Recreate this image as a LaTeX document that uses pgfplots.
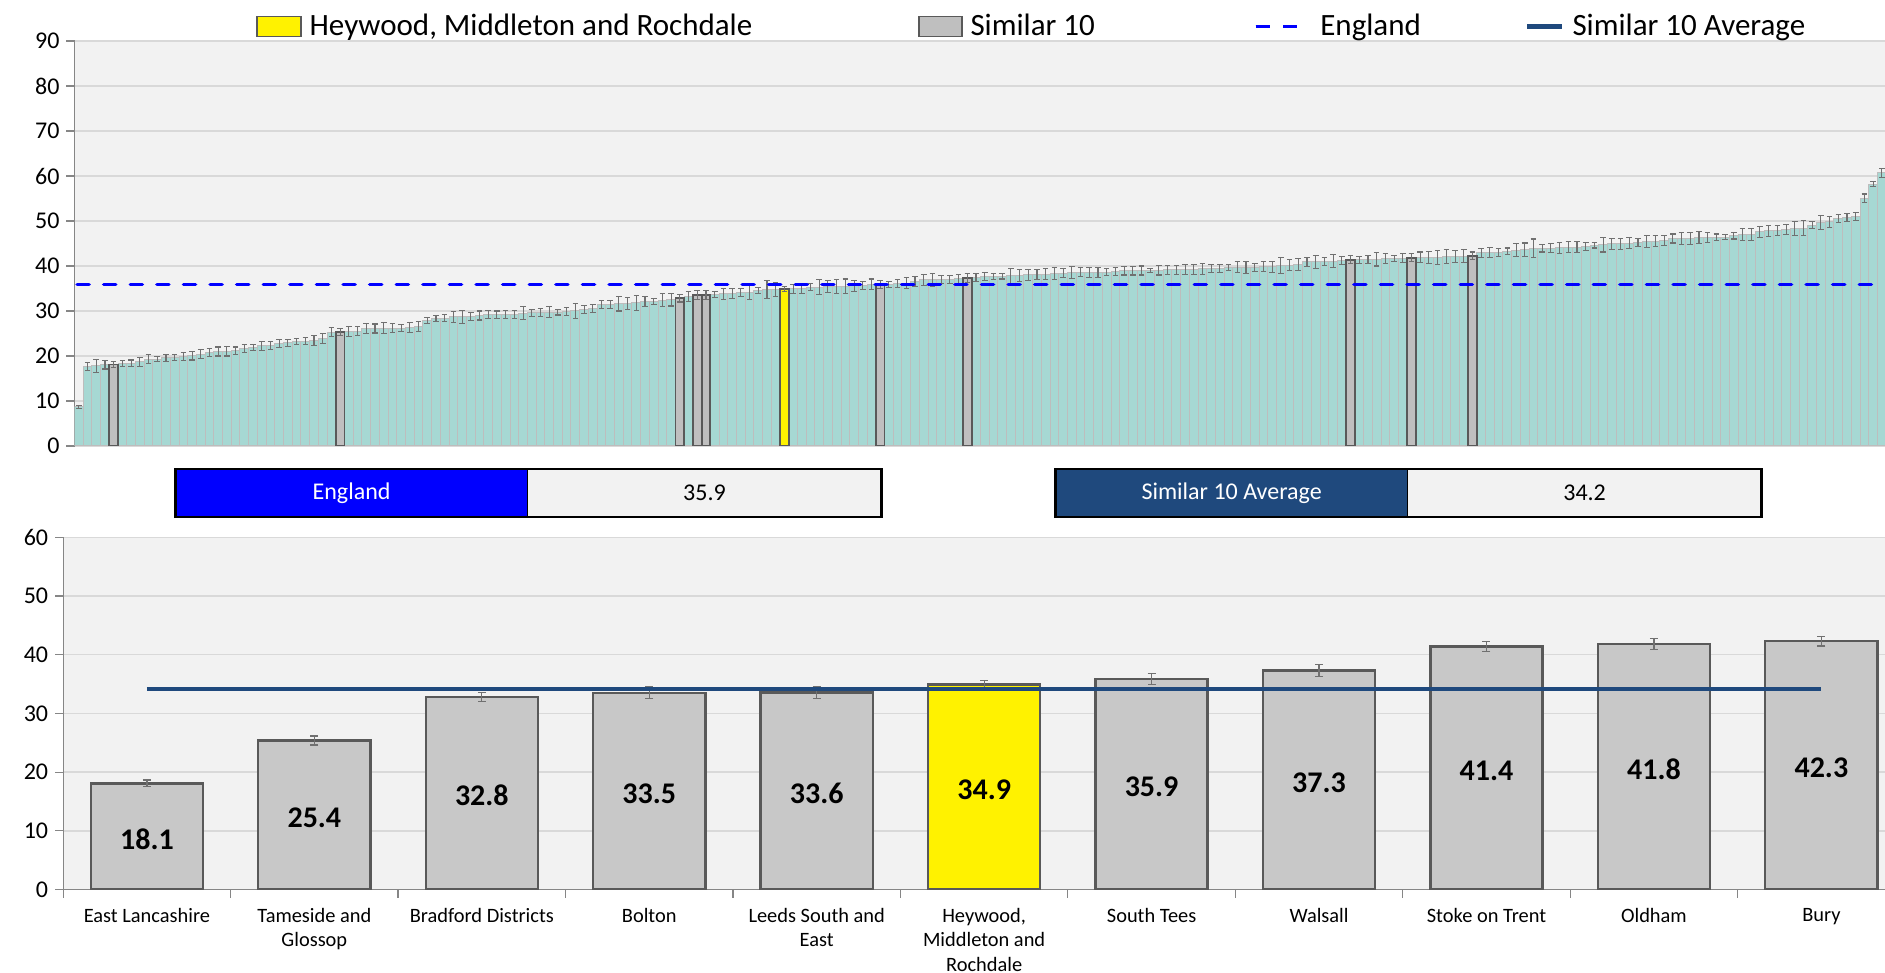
\documentclass[border=0pt]{standalone}
\usepackage{fontspec}
\setmainfont{Carlito}
\usepackage{pgfplots}
\usepackage{pgfplotstable}
\pgfplotsset{compat=1.18}
\definecolor{teal1}{HTML}{A6D8D3}
\definecolor{barborder}{HTML}{BDBDBD}
\definecolor{simgray}{HTML}{BFBFBF}
\definecolor{simgray2}{HTML}{C8C8C8}
\definecolor{darkedge}{HTML}{595959}
\definecolor{plotbg}{HTML}{F2F2F2}
\definecolor{gridc}{HTML}{D9D9D9}
\definecolor{axisc}{HTML}{868686}
\definecolor{errc}{HTML}{707070}
\definecolor{navy}{HTML}{1F497D}
\definecolor{engblue}{HTML}{0000FF}
\pgfplotsset{
  boxlegA/.style={legend image code/.code={\draw[##1] (0pt,-5pt) rectangle (22pt,5pt);}},
  boxlegB/.style={legend image code/.code={\draw[##1] (0pt,-5pt) rectangle (21.5pt,5pt);}},
  dashleg/.style={legend image code/.code={\draw[##1] (0pt,0pt) -- (20.8pt,0pt); \path (0pt,0pt) -- (27.5pt,0pt);}},
  lineleg/.style={legend image code/.code={\draw[##1] (0pt,0pt) -- (17.6pt,0pt);}},
}

\pgfplotstableread{
x y e
0 8.7 0.3
1 17.6 0.9
2 17.8 1.5
3 18.0 0.9
4 18.1 0.6
5 18.3 0.6
6 18.4 0.7
7 18.7 1.0
8 19.3 1.0
9 19.3 0.5
10 19.6 0.8
11 19.7 0.7
12 19.9 0.9
13 20.0 0.9
14 20.4 1.0
15 20.7 0.9
16 21.0 1.0
17 21.1 1.1
18 21.2 0.8
19 21.7 0.9
20 21.9 0.7
21 22.3 1.0
22 22.4 0.9
23 22.8 0.9
24 22.9 0.7
25 23.2 0.6
26 23.3 0.8
27 23.5 1.1
28 23.9 1.1
29 25.3 1.0
30 25.4 0.8
31 25.4 1.1
32 25.5 1.0
33 26.1 1.2
34 26.1 1.0
35 26.2 1.2
36 26.2 1.0
37 26.2 0.8
38 26.4 1.1
39 26.5 1.1
40 27.9 0.7
41 28.3 0.6
42 28.4 0.8
43 28.7 1.2
44 28.7 1.4
45 28.8 0.9
46 29.0 1.0
47 29.2 0.9
48 29.2 0.8
49 29.2 0.9
50 29.3 0.9
51 29.5 1.4
52 29.6 0.8
53 29.6 0.9
54 29.7 1.2
55 29.7 0.6
56 29.9 0.9
57 30.0 1.6
58 30.3 0.9
59 30.6 0.9
60 31.4 0.9
61 31.5 0.9
62 31.6 1.6
63 31.6 1.3
64 31.8 1.6
65 32.1 1.1
66 32.1 0.7
67 32.4 1.5
68 32.5 1.4
69 32.8 0.8
70 33.2 1.1
71 33.5 1.0
72 33.6 1.0
73 33.6 0.7
74 33.8 1.2
75 33.9 1.1
76 34.1 0.9
77 34.2 1.6
78 34.6 0.7
79 34.7 2.0
80 34.8 1.5
81 34.9 0.6
82 34.9 1.0
83 35.0 1.1
84 35.3 0.8
85 35.3 1.6
86 35.4 1.3
87 35.4 1.6
88 35.5 1.6
89 35.6 1.2
90 35.7 0.9
91 35.9 1.2
92 35.9 0.9
93 35.9 0.7
94 36.1 0.9
95 36.2 1.2
96 36.5 1.1
97 36.9 1.2
98 36.9 1.5
99 37.0 0.8
100 37.0 0.8
101 37.2 1.0
102 37.3 1.0
103 37.5 0.9
104 37.6 0.9
105 37.6 0.7
106 37.7 0.6
107 37.8 1.7
108 37.9 1.4
109 38.0 1.3
110 38.1 1.2
111 38.2 1.2
112 38.3 1.4
113 38.4 1.0
114 38.5 1.3
115 38.6 1.0
116 38.6 1.1
117 38.6 1.1
118 38.6 0.8
119 38.7 0.9
120 38.9 0.9
121 38.9 0.9
122 39.0 1.0
123 39.0 0.4
124 39.1 1.1
125 39.2 1.0
126 39.2 1.0
127 39.3 1.1
128 39.3 1.1
129 39.4 1.2
130 39.4 0.9
131 39.5 0.9
132 39.7 0.7
133 39.7 1.2
134 39.7 1.3
135 39.7 0.9
136 39.8 1.1
137 39.8 1.2
138 40.1 1.8
139 40.2 1.3
140 40.3 1.3
141 40.9 1.0
142 40.9 1.4
143 41.0 0.8
144 41.1 1.4
145 41.2 0.9
146 41.4 0.9
147 41.4 0.8
148 41.5 0.9
149 41.5 1.5
150 41.7 1.1
151 41.7 0.7
152 41.7 1.0
153 41.8 0.9
154 41.9 1.2
155 41.9 1.4
156 41.9 1.5
157 42.1 1.5
158 42.1 1.3
159 42.2 1.4
160 42.3 0.8
161 42.9 1.0
162 43.0 1.2
163 43.0 0.9
164 43.3 0.7
165 43.5 1.4
166 43.6 1.5
167 43.9 2.1
168 43.9 0.8
169 43.9 1.0
170 44.0 1.2
171 44.2 1.2
172 44.2 1.2
173 44.4 0.9
174 44.6 0.6
175 44.7 1.6
176 44.9 1.3
177 44.9 1.3
178 45.1 1.2
179 45.2 0.9
180 45.5 1.3
181 45.5 1.2
182 45.6 1.1
183 46.1 1.0
184 46.1 1.3
185 46.1 1.3
186 46.3 1.3
187 46.3 1.1
188 46.4 0.7
189 46.4 0.6
190 46.7 0.7
191 47.0 1.3
192 47.0 1.3
193 47.6 1.2
194 47.8 1.2
195 47.9 1.1
196 48.1 1.2
197 48.3 1.6
198 48.4 1.7
199 49.1 0.7
200 49.7 1.5
201 49.8 1.2
202 50.6 0.9
203 50.8 0.9
204 51.0 0.9
205 55.1 0.9
206 58.2 0.6
207 60.7 1.0
}\allccg

\pgfplotstableread{
x y e
4 18.1 0.6
30 25.4 0.8
69 32.8 0.8
71 33.5 1.0
72 33.6 1.0
92 35.9 0.9
102 37.3 1.0
146 41.4 0.9
153 41.8 0.9
160 42.3 0.8
}\simtop

\pgfplotstableread{
x y e
81 34.9 0.6
}\hmrtop

\pgfplotstableread{
x y e
0 18.1 0.57
1 25.4 0.77
2 32.8 0.77
3 33.5 1.0
4 33.6 1.0
6 35.9 0.95
7 37.3 1.0
8 41.4 0.9
9 41.8 0.9
10 42.3 0.8
}\simbot

\pgfplotstableread{
x y e
5 34.9 0.7
}\hmrbot

\pgfplotstableread{
x y
0 18.1
1 25.4
2 32.8
3 33.5
4 33.6
5 34.9
6 35.9
7 37.3
8 41.4
9 41.8
10 42.3
}\botall

\begin{document}
\begin{tikzpicture}
\useasboundingbox (0,0) rectangle (942.5pt,486.5pt);

% ---------------- top chart ----------------
\begin{axis}[
  at={(37.25pt,263.5pt)}, anchor=south west,
  width=905.25pt, height=202.5pt, scale only axis,
  xmin=-0.5, xmax=207.36, ymin=0, ymax=90,
  ytick={0,10,...,90}, xtick=\empty,
  ymajorgrids, grid style={gridc, line width=0.7pt},
  axis x line*=bottom, axis y line*=left,
  x axis line style={gridc, line width=0.8pt},
  y axis line style={axisc, line width=0.6pt},
  tick align=outside, major tick length=4pt,
  ytick style={axisc, line width=0.6pt},
  axis background/.style={fill=plotbg},
  tick label style={font=\fontsize{12}{14}\selectfont, black},
  /pgf/number format/assume math mode=true,
  legend columns=4,
  legend style={at={(0.1003,1.036)}, anchor=west, draw=none, fill=none,
    inner sep=0pt, font=\fontsize{15.5}{18}\selectfont,
    /tikz/every odd column/.style={column sep=2pt},
    /tikz/column 2/.style={column sep=81pt},
    /tikz/column 4/.style={column sep=77.4pt},
    /tikz/column 6/.style={column sep=50pt}},
]
\addlegendimage{boxlegA, fill=yellow, draw=darkedge, line width=0.6pt}
\addlegendentry{Heywood, Middleton and Rochdale}
\addlegendimage{boxlegB, fill=simgray, draw=darkedge, line width=0.6pt}
\addlegendentry{Similar 10}
\addlegendimage{dashleg, engblue, line width=1.8pt, dash pattern=on 7pt off 6.8pt}
\addlegendentry{England}
\addlegendimage{lineleg, navy, line width=2.2pt}
\addlegendentry{Similar 10 Average}

\addplot[forget plot, ybar, bar width=1, bar shift=0pt, fill=teal1, draw=barborder, line width=0.5pt,
  error bars/.cd, y dir=both, y explicit,
  error bar style={errc, line width=0.55pt},
  error mark options={errc, rotate=90, mark size=1.4pt, line width=0.55pt}]
  table[x=x, y=y, y error=e] {\allccg};
\addplot[forget plot, ybar, bar width=1, bar shift=0pt, fill=simgray, draw=darkedge, line width=0.9pt,
  error bars/.cd, y dir=both, y explicit,
  error bar style={errc, line width=0.55pt},
  error mark options={errc, rotate=90, mark size=1.4pt, line width=0.55pt}]
  table[x=x, y=y, y error=e] {\simtop};
\addplot[forget plot, ybar, bar width=1, bar shift=0pt, fill=yellow, draw=darkedge, line width=0.9pt,
  error bars/.cd, y dir=both, y explicit,
  error bar style={errc, line width=0.55pt},
  error mark options={errc, rotate=90, mark size=1.4pt, line width=0.55pt}]
  table[x=x, y=y, y error=e] {\hmrtop};
\addplot[forget plot, engblue, line width=1.8pt, dash pattern=on 6pt off 7.3pt, line cap=round] coordinates {(-0.2,35.9) (207.36,35.9)};
\end{axis}

% ---------------- value boxes ----------------
\fill[engblue] (87.75pt,228pt) rectangle (263.9pt,252pt);
\fill[plotbg] (263.9pt,228pt) rectangle (440.6pt,252pt);
\draw[black, line width=1.3pt] (87.75pt,228pt) rectangle (440.6pt,252pt);
\draw[black, line width=0.6pt] (263.9pt,228pt) -- (263.9pt,252pt);
\node[white, font=\fontsize{12}{14}\selectfont] at (175.8pt,240pt) {England};
\node[black, font=\fontsize{12}{14}\selectfont] at (352.25pt,240pt) {35.9};

\fill[navy] (527.75pt,228pt) rectangle (703.9pt,252pt);
\fill[plotbg] (703.9pt,228pt) rectangle (880.65pt,252pt);
\draw[black, line width=1.3pt] (527.75pt,228pt) rectangle (880.65pt,252pt);
\draw[black, line width=0.6pt] (703.9pt,228pt) -- (703.9pt,252pt);
\node[white, font=\fontsize{12}{14}\selectfont] at (615.8pt,240pt) {Similar 10 Average};
\node[black, font=\fontsize{12}{14}\selectfont] at (792.3pt,240pt) {34.2};

% ---------------- bottom chart ----------------
\begin{axis}[
  at={(31.6pt,41.7pt)}, anchor=south west,
  width=910.9pt, height=176.15pt, scale only axis,
  xmin=-0.5, xmax=10.38, ymin=0, ymax=60,
  ytick={0,10,...,60},
  xtick={-0.5,0.5,...,9.5}, xticklabels={},
  extra x ticks={0,1,...,10},
  extra x tick labels={East Lancashire,{Tameside and\\Glossop},Bradford Districts,Bolton,{Leeds South and\\East},{Heywood,\\Middleton and\\Rochdale},South Tees,Walsall,Stoke on Trent,Oldham,Bury},
  extra x tick style={major tick length=0pt, tick label style={align=center, font=\fontsize{10.2}{12.2}\selectfont, yshift=-5.8pt}},
  ymajorgrids, grid style={gridc, line width=0.7pt},
  axis x line*=bottom, axis y line*=left,
  axis line style={axisc, line width=0.6pt},
  tick align=outside, major tick length=4pt,
  tick style={axisc, line width=0.6pt},
  axis background/.style={fill=plotbg},
  y tick label style={font=\fontsize{12}{14}\selectfont, black},
  /pgf/number format/assume math mode=true,
]
\addplot[ybar, bar width=0.67, bar shift=0pt, fill=simgray2, draw=darkedge, line width=1.2pt,
  error bars/.cd, y dir=both, y explicit,
  error bar style={errc, line width=0.6pt},
  error mark options={errc, rotate=90, mark size=2pt, line width=0.6pt}]
  table[x=x, y=y, y error=e] {\simbot};
\addplot[ybar, bar width=0.67, bar shift=0pt, fill=yellow, draw=darkedge, line width=1.2pt,
  error bars/.cd, y dir=both, y explicit,
  error bar style={errc, line width=0.6pt},
  error mark options={errc, rotate=90, mark size=2pt, line width=0.6pt}]
  table[x=x, y=y, y error=e] {\hmrbot};
\addplot[navy, line width=2.2pt] coordinates {(0,34.2) (10,34.2)};
\addplot[draw=none, mark=none, nodes near coords, point meta=explicit symbolic,
  every node near coord/.style={anchor=center, yshift=-1.2pt, black, font=\bfseries\fontsize{15}{18}\selectfont}]
  table[x=x, y expr=\thisrow{y}/2, meta=y] {\botall};
\end{axis}
\end{tikzpicture}
\end{document}
